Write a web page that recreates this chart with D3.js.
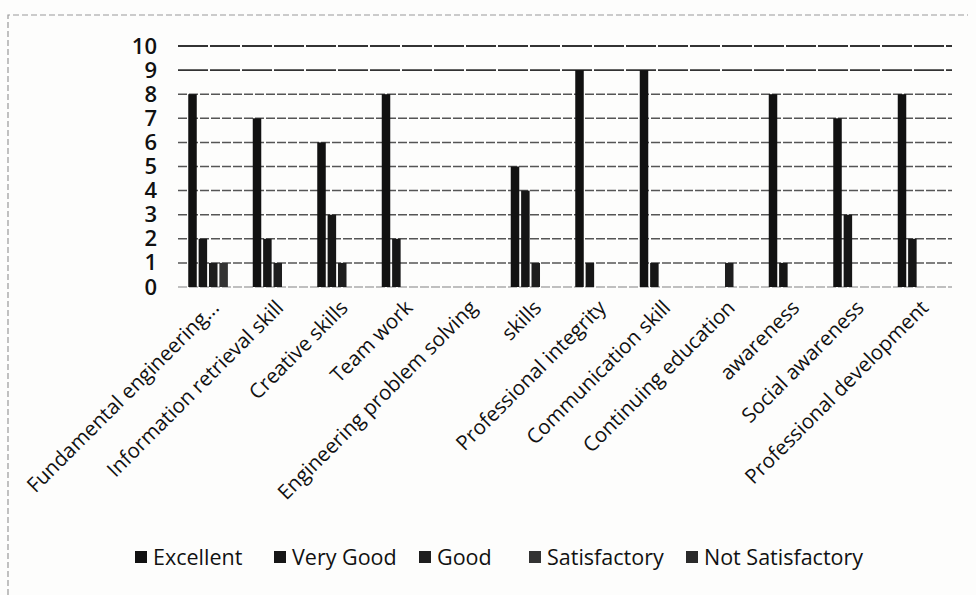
<!DOCTYPE html>
<html>
<head>
<meta charset="utf-8">
<script src="https://cdn.jsdelivr.net/npm/d3@7"></script>
<style>
  body { margin: 0; background: #fdfdfc; }
  svg { display: block; }
</style>
</head>
<body>
<div id="chart"></div>
<script>
'use strict';

/**** DATA ****/
var categories = [
  "Fundamental engineering...", "Information retrieval skill", "Creative skills",
  "Team work", "Engineering problem solving", "skills", "Professional integrity",
  "Communication skill", "Continuing education", "awareness", "Social awareness",
  "Professional development"
];
var seriesNames = ["Excellent", "Very Good", "Good", "Satisfactory", "Not Satisfactory"];
var excellent       = [8, 7, 6, 8, 0, 5, 9, 9, 0, 8, 7, 8];
var veryGood        = [2, 2, 3, 2, 0, 4, 1, 1, 0, 1, 3, 2];
var good            = [1, 1, 1, 0, 0, 1, 0, 0, 1, 0, 0, 0];
var satisfactory    = [1, 0, 0, 0, 0, 0, 0, 0, 0, 0, 0, 0];
var notSatisfactory = [0, 0, 0, 0, 0, 0, 0, 0, 0, 0, 0, 0];
var yTicks = [0, 1, 2, 3, 4, 5, 6, 7, 8, 9, 10];

var seriesValues = [excellent, veryGood, good, satisfactory, notSatisfactory];
var colors = ["#111", "#161616", "#1e1e1e", "#333", "#2a2a2a"];

var width = 976, height = 595;
var plot = { left: 178, right: 952, top: 46, bottom: 287 };

var svg = d3.select("#chart").append("svg")
  .attr("width", width)
  .attr("height", height);

// faint dashed frame like the scanned page
svg.append("path")
  .attr("d", "M8,595 L8,15 L968,15")
  .attr("fill", "none")
  .attr("stroke", "#999")
  .attr("stroke-width", 1.2)
  .attr("stroke-dasharray", "6,3");

/**** SCALES ****/
var x0 = d3.scaleBand().domain(categories).range([plot.left, plot.right]).paddingInner(0).paddingOuter(0);
var x1 = d3.scaleBand().domain(seriesNames).range([0, 50]).paddingInner(0.18);
var y = d3.scaleLinear().domain([0, 10]).range([plot.bottom, plot.top]);

// grid lines
svg.append("g").selectAll("line")
  .data(yTicks)
  .enter().append("line")
  .attr("x1", plot.left)
  .attr("x2", plot.right)
  .attr("y1", function(d) { return y(d); })
  .attr("y2", function(d) { return y(d); })
  .attr("stroke", function(d) { return d >= 9 ? "#333" : (d === 0 ? "#aaa" : "#555"); })
  .attr("stroke-width", function(d) { return d >= 9 ? 1.8 : 1.5; })
  .attr("stroke-dasharray", function(d) { return d >= 9 ? "30,2" : "9,2"; });

// y axis labels
var yAxis = d3.axisLeft(y).tickValues(yTicks).tickSize(0).tickPadding(0);
var yG = svg.append("g")
  .attr("transform", "translate(" + 157 + ",0)")
  .call(yAxis);
yG.select(".domain").remove();
yG.selectAll("text")
  .attr("fill", "#111")
  .style("font-family", "'Open Sans', sans-serif")
  .style("font-weight", "600")
  .style("font-size", "22px");

/**** BARS ****/
var groups = svg.append("g").selectAll("g")
  .data(categories)
  .enter().append("g")
  .attr("transform", function(d) { return "translate(" + (x0(d) + (x0.bandwidth() - 50) / 2 + 3) + ",0)"; });

groups.selectAll("rect")
  .data(function(d, i) {
    return seriesNames.map(function(s, j) { return { series: s, idx: j, value: seriesValues[j][i] }; });
  })
  .enter().append("rect")
  .filter(function(d) { return d.value > 0; })
  .attr("x", function(d) { return x1(d.series); })
  .attr("width", x1.bandwidth())
  .attr("y", function(d) { return y(d.value); })
  .attr("height", function(d) { return y(0) - y(d.value); })
  .attr("fill", function(d) { return colors[d.idx]; });

/**** X LABELS ****/
svg.append("g").selectAll("text")
  .data(categories)
  .enter().append("text")
  .attr("transform", function(d) {
    return "translate(" + (x0(d) + x0.bandwidth() / 2 + 10) + "," + 309 + ") rotate(-45)";
  })
  .attr("text-anchor", "end")
  .attr("fill", "#111")
  .style("font-family", "'Open Sans', sans-serif")
  .style("font-size", "20.5px")
  .text(function(d) { return d; });

/**** LEGEND ****/
var legendX = [135, 274, 419, 529, 686];
var legend = svg.append("g").selectAll("g")
  .data(seriesNames)
  .enter().append("g")
  .attr("transform", function(d, i) { return "translate(" + legendX[i] + "," + 557 + ")"; });

legend.append("rect")
  .attr("x", 0)
  .attr("y", -6)
  .attr("width", 12)
  .attr("height", 12)
  .attr("fill", function(d, i) { return colors[i]; });

legend.append("text")
  .attr("x", 18)
  .attr("y", 0)
  .attr("dy", "0.35em")
  .attr("fill", "#111")
  .style("font-family", "'Open Sans', sans-serif")
  .style("font-size", "21.5px")
  .text(function(d) { return d; });
</script>
</body>
</html>
